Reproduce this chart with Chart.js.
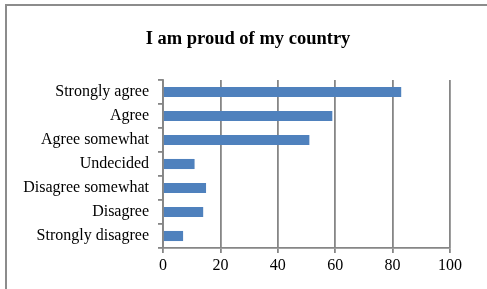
<!DOCTYPE html>
<html>
<head>
<meta charset="utf-8">
<script src="https://cdn.jsdelivr.net/npm/chart.js@4"></script>
<style>
  html, body { margin: 0; padding: 0; background: #fff; }
  #wrap { position: relative; width: 487px; height: 289px; overflow: hidden; }
  #frame { position: absolute; left: 5px; top: 4px; width: 600px; height: 400px;
           border-left: 2px solid #8c8c8c; border-top: 2px solid #8c8c8c; }
  #title { position: absolute; left: 0; top: 27px; width: 496px; text-align: center;
           font: bold 18.5px 'Liberation Serif', 'Times New Roman', serif; line-height: 22px;
           color: #000; }
  canvas { position: absolute; left: 0; top: 0; }
</style>
</head>
<body>
<div id="wrap">
  <div id="frame"></div>
  <canvas id="chart" width="487" height="289"></canvas>
  <div id="title">I am proud of my country</div>
</div>
<script>
const categories = ['Strongly agree', 'Agree', 'Agree somewhat', 'Undecided',
  'Disagree somewhat', 'Disagree', 'Strongly disagree'];
const values = [83, 59, 51, 11, 15, 14, 7];
const xTicks = [0, 20, 40, 60, 80, 100];

const font = 'Liberation Serif, Times New Roman, serif';
const gridColor = '#868686';

const ctx = document.getElementById('chart').getContext('2d');
new Chart(ctx, {
  type: 'bar',
  data: {
    labels: categories,
    datasets: [{
      data: values,
      backgroundColor: '#4F81BD',
      borderWidth: 0,
      categoryPercentage: 1,
      barPercentage: 0.42
    }]
  },
  options: {
    indexAxis: 'y',
    responsive: false,
    animation: false,
    devicePixelRatio: 1,
    layout: { padding: { left: 0, right: 37, top: 80, bottom: 0 } },
    plugins: {
      legend: { display: false },
      tooltip: { enabled: false },
      title: { display: false }
    },
    scales: {
      x: {
        min: 0,
        max: 100,
        afterBuildTicks: axis => { axis.ticks = xTicks.map(v => ({ value: v })); },
        afterFit: axis => { axis.height = 41; },
        grid: { color: gridColor, lineWidth: 1.8, tickLength: 5 },
        border: { color: gridColor, width: 1.8 },
        ticks: { color: '#000', font: { family: font, size: 16 }, padding: 3 }
      },
      y: {
        afterFit: axis => { axis.width = 163; },
        grid: { drawOnChartArea: false, color: gridColor, lineWidth: 1.8, tickLength: 5, offset: true },
        border: { color: gridColor, width: 1.8 },
        ticks: { color: '#000', font: { family: font, size: 16 }, padding: 9 }
      }
    }
  }
});
</script>
</body>
</html>
